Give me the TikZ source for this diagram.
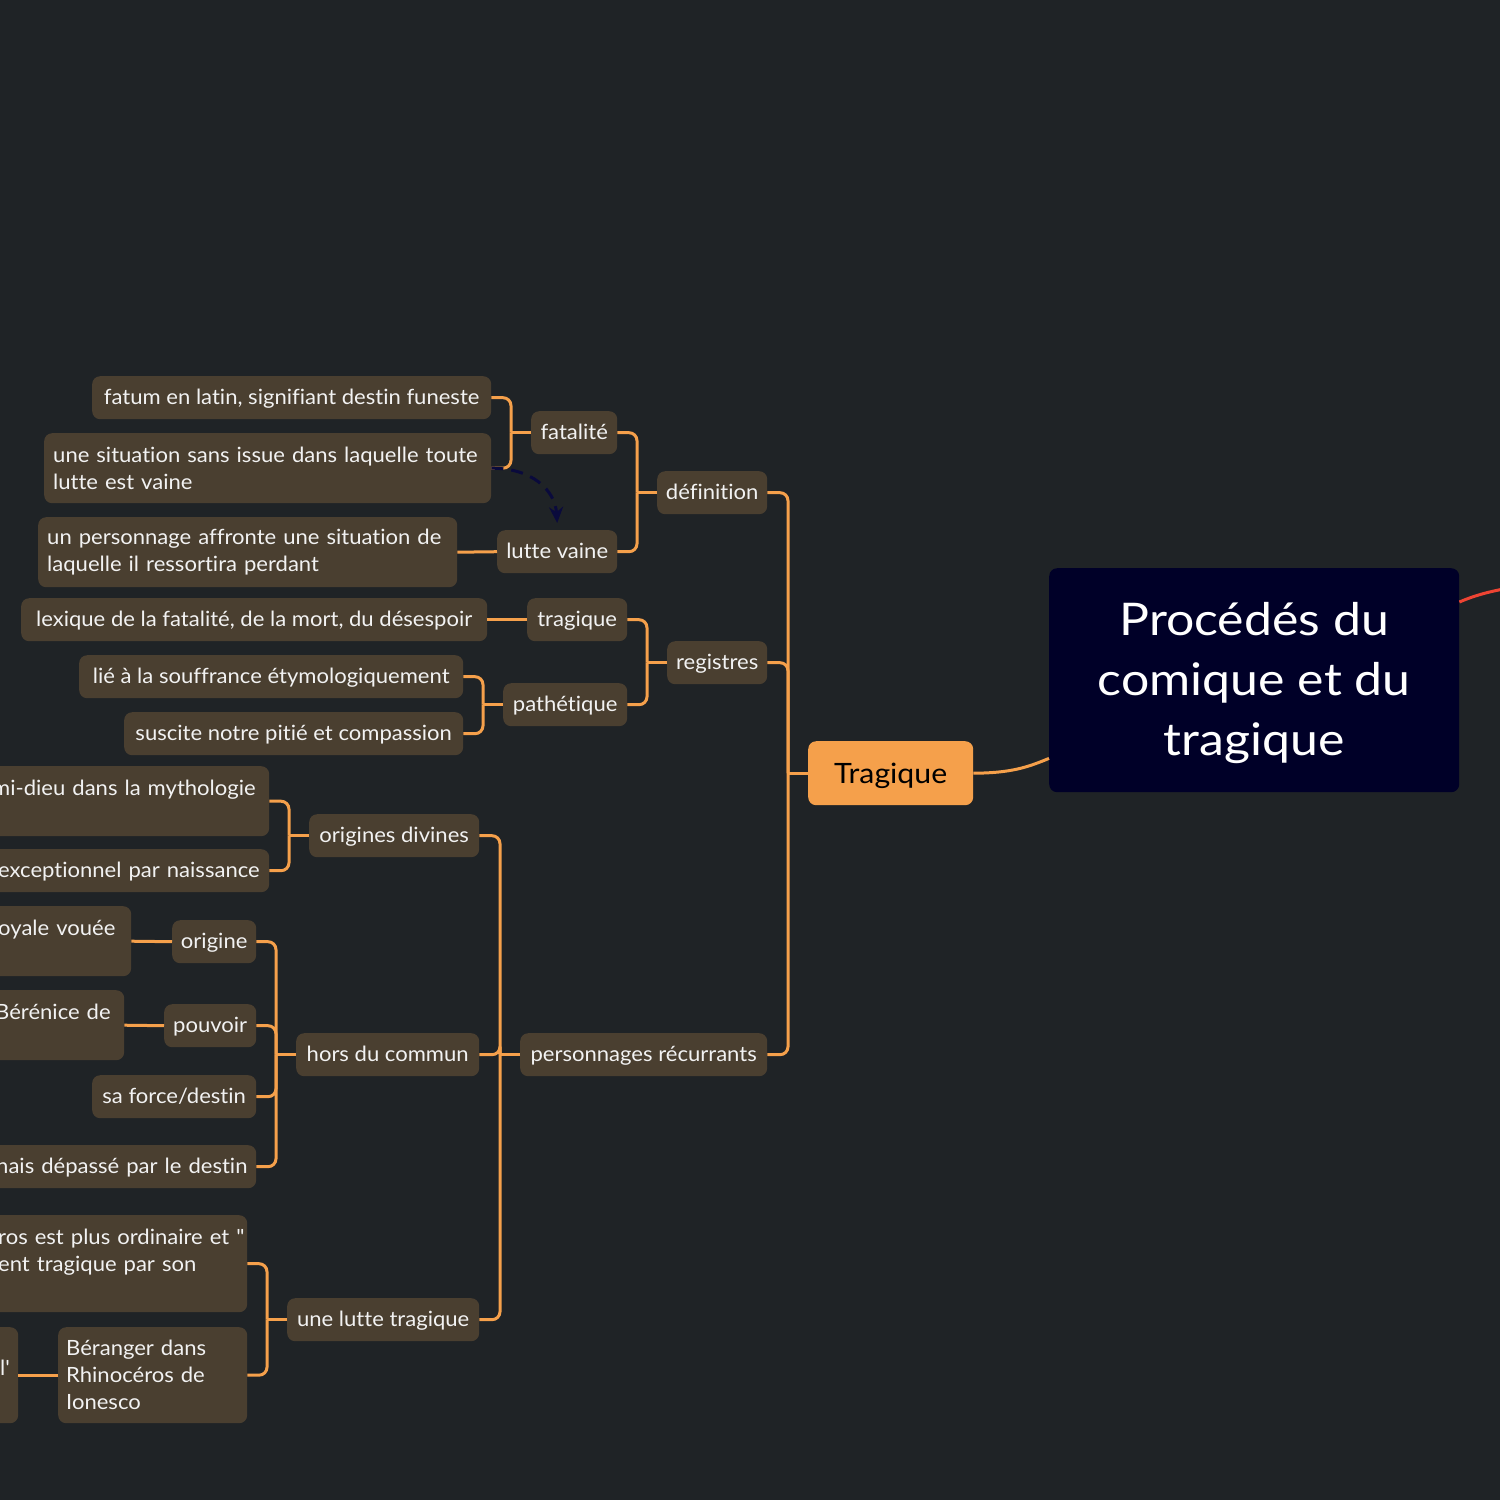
\documentclass[tikz,border=0pt]{standalone}
\usepackage{fontspec}
\setmainfont{Lato}[Ligatures={TeXOff,CommonOff}]
\newfontfamily\nodefam{Lato}[FakeStretch=1.05,Ligatures={TeXOff,CommonOff}]
\newfontfamily\rootfam{Lato}[FakeStretch=1.11,Ligatures={TeXOff,CommonOff}]
\newfontfamily\tragfam{Lato}[FakeStretch=1.08,Ligatures={TeXOff,CommonOff}]
\usetikzlibrary{calc,arrows.meta}
\definecolor{bg}{HTML}{1F2326}
\definecolor{nodebg}{HTML}{4A3F30}
\definecolor{orng}{HTML}{F5A04B}
\definecolor{rootbg}{HTML}{000028}
\definecolor{redc}{HTML}{EE4433}
\definecolor{navy}{HTML}{0A0A3C}
\definecolor{txt}{HTML}{F2F2F2}
\newcommand\nfont{\nodefam\fontsize{21pt}{27pt}\selectfont}
\newcommand\br[2]{\draw[conn] (#2.east) -| ($(#1.west)+(-20,0)$);}
\newcommand\stem[1]{\draw[conn] (#1.west) -- ++(-20,0);}
\begin{document}
\begin{tikzpicture}[x=1pt,y=-1pt,
  basebox/.style={fill=nodebg, rounded corners=8pt, text=txt, font=\nfont, inner ysep=0pt, anchor=north west},
  box/.style={basebox, inner xsep=6pt, text height=17pt, text depth=4pt, align=center},
  lbox/.style={basebox, inner xsep=10pt, align=left},
  lboxone/.style={lbox, text height=17pt, text depth=4pt},
  conn/.style={draw=orng, line width=3pt, rounded corners=8pt},
  dasharrow/.style={draw=navy, line width=3pt, dash pattern=on 12pt off 8pt, -{Stealth[length=16pt,width=14pt]}}
]
\useasboundingbox (0,0) rectangle (1500,1500);
\fill[bg] (0,0) rectangle (1500,1500);
\clip (0,0) rectangle (1500,1500);

% root and main
\node[fill=rootbg, rounded corners=8pt, text=white, font=\rootfam\fontsize{45pt}{60pt}\selectfont, align=center, anchor=north west, minimum width=410pt, minimum height=224pt, inner sep=0pt, text depth=2pt] (root) at (1049,568) {Procédés du\\comique et du\\tragique};
\node[fill=orng, rounded corners=8pt, text=black, font=\tragfam\fontsize{28pt}{30pt}\selectfont, anchor=north west, minimum width=165pt, minimum height=64pt, inner sep=0pt, text depth=0pt] (trag) at (808,741) {Tragique};

% level 1
\node[box, minimum width=110pt, minimum height=43pt] (def) at (657,471) {définition};
\node[box, minimum width=100pt, minimum height=43pt] (reg) at (667,641) {registres};
\node[box, minimum width=247pt, minimum height=43pt] (pr) at (520,1033) {personnages récurrants};

% définition branch
\node[box, minimum width=86pt, minimum height=43pt] (fat) at (531,411) {fatalité};
\node[box, minimum width=120pt, minimum height=43pt] (lv) at (497,530) {lutte vaine};
\node[box, minimum width=399pt, minimum height=43pt] (n1) at (92,376) {fatum en latin, signifiant destin funeste};
\node[lbox, inner xsep=9pt, text width=429pt, minimum height=70pt] (n2) at (44,433) {\mbox{une situation sans issue dans laquelle toute}\\\mbox{lutte est vaine}};
\node[lbox, inner xsep=9pt, text width=401pt, minimum height=70pt] (n5) at (38,517) {\mbox{un personnage affronte une situation de}\\\mbox{laquelle il ressortira perdant}};

% registres branch
\node[box, minimum width=100pt, minimum height=43pt] (trq) at (527,598) {tragique};
\node[box, minimum width=124pt, minimum height=43pt] (pat) at (503,683) {pathétique};
\node[box, minimum width=466pt, minimum height=43pt] (n7) at (21,598) {lexique de la fatalité, de la mort, du désespoir};
\node[box, minimum width=384pt, minimum height=43pt] (n10) at (79,655) {lié à la souffrance étymologiquement};
\node[box, minimum width=339pt, minimum height=43pt] (n12) at (124,712) {suscite notre pitié et compassion};

% personnages branch
\node[box, minimum width=170pt, minimum height=43pt] (od) at (309,814) {origines divines};
\node[box, minimum width=183pt, minimum height=43pt] (hdc) at (296,1033) {hors du commun};
\node[box, minimum width=192pt, minimum height=43pt] (ult) at (287,1298) {une lutte tragique};
\node[lbox, text width=267pt, minimum height=70pt] (n15) at (-18,766) {\mbox{mi-dieu dans la mythologie}\\\mbox{}};
\node[lboxone, text width=261pt, minimum height=43pt] (n16) at (-12,849) {\mbox{exceptionnel par naissance}};
\node[box, minimum width=84pt, minimum height=43pt] (ori) at (172,920) {origine};
\node[box, minimum width=92pt, minimum height=43pt] (pou) at (164,1004) {pouvoir};
\node[box, minimum width=164pt, minimum height=43pt] (sfd) at (92,1075) {sa force/destin};
\node[lboxone, text width=250pt, minimum height=43pt] (n23) at (-14,1145) {\mbox{nais dépassé par le destin}};
\node[lbox, text width=123pt, minimum height=70pt] (n18) at (-12,906) {\mbox{oyale vouée}\\\mbox{}};
\node[lbox, text width=119pt, minimum height=70pt] (n20) at (-15,990) {\mbox{Bérénice de}\\\mbox{}};
\node[lbox, text width=239pt, minimum height=97pt] (n26) at (-12,1215) {\mbox{ros est plus ordinaire et "}\\\mbox{ent tragique par son}\\\mbox{}};
\node[lbox, inner xsep=8pt, text width=173pt, minimum height=96pt] (ber) at (58,1327) {\mbox{Béranger dans}\\\mbox{Rhinocéros de}\\\mbox{Ionesco}};
\node[lbox, text width=8pt, minimum height=96pt] (n29) at (-10,1327) {\mbox{}\\\mbox{l'}\\\mbox{}};

% connectors
\draw[conn] (trag.east) .. controls (1012,773) and (1028,767) .. ($(root.south west)+(0,-34)$);
\draw[draw=redc, line width=3pt] ($(root.north east)+(0,34)$) .. controls (1478,594) and (1500,588) .. (1540,584);

\stem{trag} \br{trag}{def} \br{trag}{reg} \br{trag}{pr}
\stem{def} \br{def}{fat} \br{def}{lv}
\stem{fat} \br{fat}{n1} \br{fat}{n2}
\draw[conn] (lv.west) -- (n5.east);
\stem{reg} \br{reg}{trq} \br{reg}{pat}
\draw[conn] (trq.west) -- (n7.east);
\stem{pat} \br{pat}{n10} \br{pat}{n12}
\stem{pr} \br{pr}{od} \br{pr}{hdc} \br{pr}{ult}
\stem{od} \br{od}{n15} \br{od}{n16}
\stem{hdc} \br{hdc}{ori} \br{hdc}{pou} \br{hdc}{sfd} \br{hdc}{n23}
\draw[conn] (ori.west) -- (n18.east);
\draw[conn] (pou.west) -- (n20.east);
\stem{ult} \br{ult}{n26} \br{ult}{ber}
\draw[conn] (ber.west) -- (n29.east);

\draw[dasharrow] (n2.east) .. controls (532,468) and (555,490) .. ($(lv.north)+(0,-7)$);
\end{tikzpicture}
\end{document}
